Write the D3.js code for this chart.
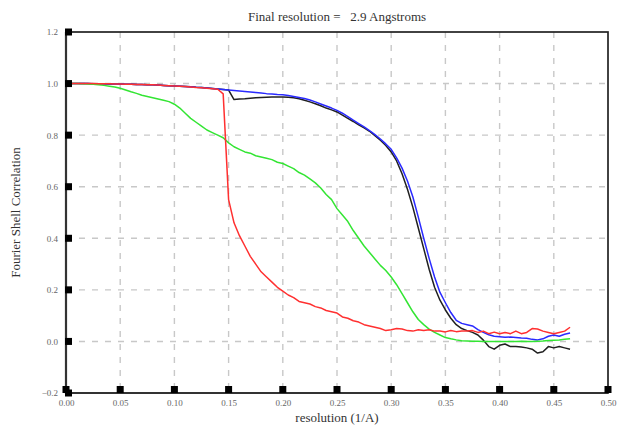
<!DOCTYPE html>
<html>
<head>
<meta charset="utf-8">
<script src="https://cdn.jsdelivr.net/npm/d3@7"></script>
<style>
  html, body { margin: 0; padding: 0; background: #fff; }
  svg { display: block; }
  text { font-family: "Liberation Serif", "DejaVu Serif", serif; }
</style>
</head>
<body>
<div id="chart"></div>
<script>
  'use strict';

  // resolution (1/A) sample points
  const resolution = [
    0.000, 0.005, 0.010, 0.015, 0.020, 0.025, 0.030, 0.035, 0.040, 0.045,
    0.050, 0.055, 0.060, 0.065, 0.070, 0.075, 0.080, 0.085, 0.090, 0.095,
    0.100, 0.105, 0.110, 0.115, 0.120, 0.125, 0.130, 0.135, 0.140, 0.145,
    0.150, 0.155, 0.160, 0.165, 0.170, 0.175, 0.180, 0.185, 0.190, 0.195,
    0.200, 0.205, 0.210, 0.215, 0.220, 0.225, 0.230, 0.235, 0.240, 0.245,
    0.250, 0.255, 0.260, 0.265, 0.270, 0.275, 0.280, 0.285, 0.290, 0.295,
    0.300, 0.305, 0.310, 0.315, 0.320, 0.325, 0.330, 0.335, 0.340, 0.345,
    0.350, 0.355, 0.360, 0.365, 0.370, 0.375, 0.380, 0.385, 0.390, 0.395,
    0.400, 0.405, 0.410, 0.415, 0.420, 0.425, 0.430, 0.435, 0.440, 0.445,
    0.450, 0.455, 0.460, 0.465
  ];

  const fscBlue = [
    1.000, 1.000, 1.000, 1.000, 1.000, 0.999, 0.999, 0.999, 0.998, 0.998,
    0.998, 0.997, 0.997, 0.996, 0.996, 0.995, 0.995, 0.994, 0.993, 0.992,
    0.991, 0.990, 0.989, 0.988, 0.986, 0.985, 0.983, 0.981, 0.979, 0.977,
    0.975, 0.973, 0.971, 0.969, 0.967, 0.965, 0.963, 0.961, 0.960, 0.958,
    0.957, 0.954, 0.950, 0.946, 0.942, 0.936, 0.929, 0.921, 0.913, 0.905,
    0.896, 0.885, 0.872, 0.858, 0.845, 0.832, 0.818, 0.802, 0.785, 0.766,
    0.745, 0.712, 0.672, 0.622, 0.560, 0.482, 0.400, 0.322, 0.250, 0.190,
    0.150, 0.112, 0.082, 0.070, 0.065, 0.060, 0.046, 0.035, 0.026, 0.020,
    0.018, 0.016, 0.017, 0.015, 0.013, 0.012, 0.008, 0.006, 0.010, 0.020,
    0.025, 0.020, 0.028, 0.033
  ];

  const fscBlack = [
    1.000, 1.000, 1.000, 1.000, 1.000, 0.999, 0.999, 0.999, 0.998, 0.998,
    0.998, 0.997, 0.997, 0.996, 0.996, 0.995, 0.995, 0.994, 0.993, 0.992,
    0.991, 0.990, 0.989, 0.988, 0.986, 0.985, 0.983, 0.981, 0.979, 0.977,
    0.975, 0.938, 0.940, 0.941, 0.943, 0.945, 0.946, 0.947, 0.948, 0.948,
    0.948, 0.947, 0.945, 0.941, 0.935, 0.929, 0.922, 0.914, 0.905, 0.898,
    0.890, 0.878, 0.865, 0.853, 0.840, 0.828, 0.815, 0.798, 0.780, 0.760,
    0.735, 0.700, 0.650, 0.590, 0.520, 0.440, 0.360, 0.280, 0.210, 0.160,
    0.122, 0.090, 0.065, 0.050, 0.042, 0.035, 0.025, 0.005, -0.020, -0.030,
    -0.015, -0.010, -0.020, -0.020, -0.022, -0.025, -0.030, -0.045, -0.040, -0.020,
    -0.025, -0.020, -0.025, -0.030
  ];

  const fscGreen = [
    1.000, 1.000, 1.000, 0.999, 0.998, 0.997, 0.995, 0.993, 0.990, 0.987,
    0.982, 0.975, 0.968, 0.962, 0.955, 0.950, 0.945, 0.940, 0.935, 0.930,
    0.920, 0.905, 0.885, 0.865, 0.850, 0.835, 0.820, 0.810, 0.800, 0.790,
    0.770, 0.755, 0.745, 0.735, 0.730, 0.720, 0.715, 0.710, 0.705, 0.695,
    0.690, 0.680, 0.670, 0.655, 0.645, 0.630, 0.615, 0.595, 0.570, 0.550,
    0.515, 0.490, 0.465, 0.430, 0.400, 0.370, 0.345, 0.320, 0.295, 0.275,
    0.250, 0.220, 0.185, 0.150, 0.115, 0.085, 0.065, 0.048, 0.035, 0.025,
    0.015, 0.010, 0.006, 0.003, 0.002, 0.001, 0.001, 0.000, 0.000, 0.000,
    0.000, 0.000, 0.000, 0.000, 0.001, 0.000, 0.000, 0.001, 0.002, 0.004,
    0.005, 0.006, 0.008, 0.010
  ];

  const fscRed = [
    1.000, 1.000, 1.000, 1.000, 1.000, 1.000, 0.999, 0.999, 0.999, 0.998,
    0.998, 0.997, 0.997, 0.996, 0.996, 0.995, 0.995, 0.994, 0.993, 0.992,
    0.991, 0.990, 0.989, 0.987, 0.985, 0.984, 0.982, 0.980, 0.978, 0.960,
    0.550, 0.460, 0.410, 0.370, 0.330, 0.300, 0.270, 0.250, 0.230, 0.210,
    0.195, 0.180, 0.170, 0.155, 0.150, 0.145, 0.135, 0.130, 0.120, 0.115,
    0.110, 0.095, 0.090, 0.080, 0.075, 0.065, 0.060, 0.055, 0.050, 0.042,
    0.045, 0.050, 0.048, 0.042, 0.040, 0.045, 0.042, 0.045, 0.040, 0.040,
    0.037, 0.042, 0.038, 0.040, 0.040, 0.042, 0.035, 0.040, 0.030, 0.036,
    0.030, 0.035, 0.030, 0.040, 0.030, 0.035, 0.050, 0.048, 0.040, 0.035,
    0.030, 0.035, 0.040, 0.055
  ];

  const xTicks = [0, 0.05, 0.1, 0.15, 0.2, 0.25, 0.3, 0.35, 0.4, 0.45, 0.5];
  const yTicks = [-0.2, 0, 0.2, 0.4, 0.6, 0.8, 1.0, 1.2];

  const titleText = 'Final resolution =   2.9 Angstroms';
  const xLabelText = 'resolution (1/A)';
  const yLabelText = 'Fourier Shell Correlation';

  (function () {
    const width = 620, height = 427;
    const m = { left: 66, right: 608, top: 32, bottom: 393 };

    const x = d3.scaleLinear().domain([0, 0.5]).range([m.left, m.right]);
    const y = d3.scaleLinear().domain([-0.2, 1.2]).range([m.bottom, m.top]);

    const svg = d3.select('#chart').append('svg')
      .attr('width', width)
      .attr('height', height);

    // dashed grid
    const grid = svg.append('g').attr('class', 'grid');
    grid.selectAll('line.vx')
      .data(xTicks.slice(1, -1))
      .join('line')
      .attr('class', 'vx')
      .attr('x1', d => x(d)).attr('x2', d => x(d))
      .attr('y1', m.top).attr('y2', m.bottom)
      .attr('stroke', '#c8c8c8').attr('stroke-width', 1.4)
      .attr('stroke-dasharray', '6,7');
    grid.selectAll('line.hy')
      .data(yTicks.slice(1, -1))
      .join('line')
      .attr('class', 'hy')
      .attr('x1', m.left).attr('x2', m.right)
      .attr('y1', d => y(d)).attr('y2', d => y(d))
      .attr('stroke', '#c8c8c8').attr('stroke-width', 1.4)
      .attr('stroke-dasharray', '6,7');

    // frame
    svg.append('rect')
      .attr('x', m.left).attr('y', m.top)
      .attr('width', m.right - m.left).attr('height', m.bottom - m.top)
      .attr('fill', 'none')
      .attr('stroke', '#222').attr('stroke-width', 1.7);
    // heavier left and bottom axis lines
    svg.append('path')
      .attr('d', `M${m.left},${m.top}V${m.bottom}H${m.right}`)
      .attr('fill', 'none')
      .attr('stroke', '#333').attr('stroke-width', 2.2);

    // curves
    const series = [
      { values: fscBlack, color: '#202020' },
      { values: fscBlue, color: '#2a2aff' },
      { values: fscGreen, color: '#33e533' },
      { values: fscRed, color: '#ff3030' }
    ];

    const line = d3.line()
      .x((d, i) => x(resolution[i]))
      .y(d => y(d));

    svg.append('g').selectAll('path')
      .data(series)
      .join('path')
      .attr('fill', 'none')
      .attr('stroke', d => d.color)
      .attr('stroke-width', 1.5)
      .attr('stroke-linejoin', 'round')
      .attr('d', d => line(d.values));

    // axes with text labels only; the square markers are drawn separately
    const xAxis = svg.append('g')
      .attr('transform', `translate(0,${m.bottom})`)
      .call(d3.axisBottom(x).tickValues(xTicks).tickSize(0).tickPadding(7)
        .tickFormat(d3.format('.2f')));
    const yAxis = svg.append('g')
      .attr('transform', `translate(${m.left},0)`)
      .call(d3.axisLeft(y).tickValues(yTicks).tickSize(0).tickPadding(8)
        .tickFormat(d3.format('.1f')));
    [xAxis, yAxis].forEach(a => {
      a.select('.domain').remove();
      a.selectAll('text')
        .attr('font-family', '"Liberation Serif", serif')
        .attr('font-size', 9)
        .attr('fill', '#666');
    });

    const sq = 7;
    svg.append('g').selectAll('rect')
      .data(xTicks)
      .join('rect')
      .attr('x', d => x(d) - sq / 2)
      .attr('y', m.bottom - sq)
      .attr('width', sq).attr('height', sq)
      .attr('fill', '#000');
    svg.append('g').selectAll('rect')
      .data(yTicks)
      .join('rect')
      .attr('x', m.left - 1)
      .attr('y', d => y(d) - sq / 2)
      .attr('width', sq).attr('height', sq)
      .attr('fill', '#000');

    // titles
    svg.append('text')
      .attr('x', (m.left + m.right) / 2)
      .attr('y', 21)
      .attr('text-anchor', 'middle')
      .attr('font-size', 13)
      .attr('fill', '#333')
      .style('white-space', 'pre')
      .text(titleText);

    svg.append('text')
      .attr('x', (m.left + m.right) / 2)
      .attr('y', 422)
      .attr('text-anchor', 'middle')
      .attr('font-size', 13)
      .attr('fill', '#333')
      .text(xLabelText);

    svg.append('text')
      .attr('transform', `translate(20,${(m.top + m.bottom) / 2}) rotate(-90)`)
      .attr('text-anchor', 'middle')
      .attr('font-size', 13)
      .attr('fill', '#333')
      .text(yLabelText);
  })();
</script>
</body>
</html>
